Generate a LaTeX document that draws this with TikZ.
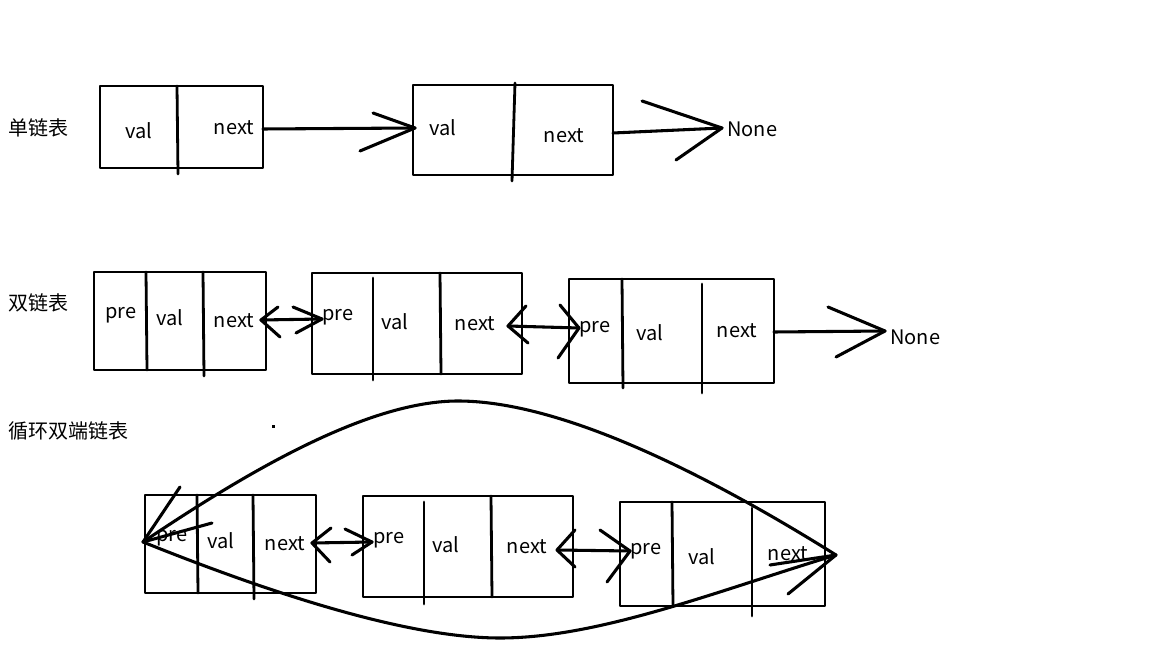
\documentclass[tikz,border=0pt]{standalone}
\usepackage{fontspec}
\setmainfont{Noto Sans CJK SC}
\begin{document}
\begin{tikzpicture}[x=0.75pt,y=-0.75pt, line join=round, line cap=round,
  box/.style={draw, line width=2.1pt, inner sep=0pt, outer sep=0pt, fill=none},
  dv/.style={line width=2.1pt},
  ln/.style={line width=2.3pt},
  lbl/.style={font=\fontsize{15pt}{18pt}\selectfont, inner sep=0pt}]
\useasboundingbox (0,0) rectangle (1152,648);

% titles
\node[lbl, anchor=west] (t1) at (8,128) {单链表};
\node[lbl, anchor=west] (t2) at (8,303) {双链表};
\node[lbl, anchor=west] (t3) at (8,431) {循环双端链表};
\fill (272,425) rectangle (275,428);

% ---------- row 1 ----------
\node[box, minimum width=122.25pt, minimum height=61.5pt] (A) at (181.5,127) {};
\draw[dv] (177,86) -- (178,174);
\node[lbl] (Aval) at (139,131) {val};
\node[lbl] (Anext) at (234,128) {next};

\node[box, minimum width=150pt, minimum height=67.5pt] (B) at (513,130) {};
\draw[dv] (515,83) -- (512,181);
\node[lbl] (Bval) at (443,128) {val};
\node[lbl] (Bnext) at (564,136) {next};

\coordinate (AB) at (415,128);
\coordinate (Aout) at (263,129);
\draw[ln] (Aout) -- (AB);
\draw[ln] (373,113) -- (AB) -- (360,151);

\node[lbl, anchor=west] (N1) at (727,129) {None};
\coordinate (Bout) at (613,133);
\coordinate (N1tip) at (722,128);
\draw[ln] (Bout) -- (N1tip);
\draw[ln] (642,101) -- (N1tip) -- (676,160);

% ---------- row 2 ----------
\node[box, minimum width=129pt, minimum height=73.5pt] (C) at (180,321) {};
\draw[dv] (146,272) -- (147,370);
\draw[dv] (203,272) -- (204,376);
\node[lbl] (Cpre) at (121,315) {pre};
\node[lbl] (Cval) at (170,318) {val};
\node[lbl] (Cnext) at (234,321) {next};

\node[box, minimum width=157.5pt, minimum height=75.75pt] (D) at (417,323.5) {};
\draw[dv] (373,278) -- (373,380);
\draw[dv] (440,273) -- (441,374);
\node[lbl] (Dpre) at (338,317) {pre};
\node[lbl] (Dval) at (395,322) {val};
\node[lbl] (Dnext) at (475,324) {next};

\node[box, minimum width=153.75pt, minimum height=78pt] (E) at (671.5,331) {};
\draw[dv] (622,279) -- (623,388);
\draw[dv] (702,284) -- (702,393);
\node[lbl] (Epre) at (595,329) {pre};
\node[lbl] (Eval) at (650,333) {val};
\node[lbl] (Enext) at (737,331) {next};

\coordinate (CD1) at (261,320);
\coordinate (CD2) at (322,319);
\draw[ln] (CD1) -- (CD2);
\draw[ln] (278,307) -- (CD1) -- (280,337);
\draw[ln] (293,307) -- (CD2) -- (296,333);

\coordinate (DE1) at (508,326);
\coordinate (DE2) at (579,328);
\draw[ln] (DE1) -- (DE2);
\draw[ln] (526,306) -- (DE1) -- (528,343);
\draw[ln] (560,305) -- (DE2) -- (558,358);

\node[lbl, anchor=west] (N2) at (890,337) {None};
\coordinate (Eout) at (774,332);
\coordinate (N2tip) at (885,331);
\draw[ln] (Eout) -- (N2tip);
\draw[ln] (828,307) -- (N2tip) -- (836,357);

% ---------- row 3 ----------
\node[box, minimum width=128.25pt, minimum height=73.5pt] (F) at (230.5,544) {};
\draw[dv] (197,495) -- (198,593);
\draw[dv] (253,495) -- (254,599);
\node[lbl] (Fpre) at (172,538) {pre};
\node[lbl] (Fval) at (221,541) {val};
\node[lbl] (Fnext) at (285,544) {next};

\node[box, minimum width=157.5pt, minimum height=75.75pt] (G) at (468,546.5) {};
\draw[dv] (424,502) -- (424,604);
\draw[dv] (491,496) -- (492,597);
\node[lbl] (Gpre) at (389,540) {pre};
\node[lbl] (Gval) at (446,545) {val};
\node[lbl] (Gnext) at (527,547) {next};

\node[box, minimum width=153.75pt, minimum height=78pt] (H) at (722.5,554) {};
\draw[dv] (672,502) -- (673,606);
\draw[dv] (752,508) -- (752,616);
\node[lbl] (Hpre) at (646,551) {pre};
\node[lbl] (Hval) at (702,557) {val};
\node[lbl] (Hnext) at (788,554) {next};

\coordinate (FG1) at (312,543);
\coordinate (FG2) at (372,542);
\draw[ln] (FG1) -- (FG2);
\draw[ln] (331,528) -- (FG1) -- (330,562);
\draw[ln] (345,529) -- (FG2) -- (352,555);

\coordinate (GH1) at (557,550);
\coordinate (GH2) at (630,551);
\draw[ln] (GH1) -- (GH2);
\draw[ln] (575,530) -- (GH1) -- (575,567);
\draw[ln] (600,530) -- (GH2) -- (607,582);

% circular links
\coordinate (L) at (143,542);
\coordinate (R) at (836,555);
\draw[ln] (L) .. controls (250,470) and (370,400) .. (460,401)
              .. controls (560,402) and (700,470) .. (R);
\draw[ln] (L) .. controls (300,605) and (420,638) .. (500,638)
              .. controls (600,638) and (720,590) .. (R);
\draw[ln] (180,487) -- (L) -- (212,523);
\draw[ln] (770,565) -- (R) -- (788,594);
\end{tikzpicture}
\end{document}
